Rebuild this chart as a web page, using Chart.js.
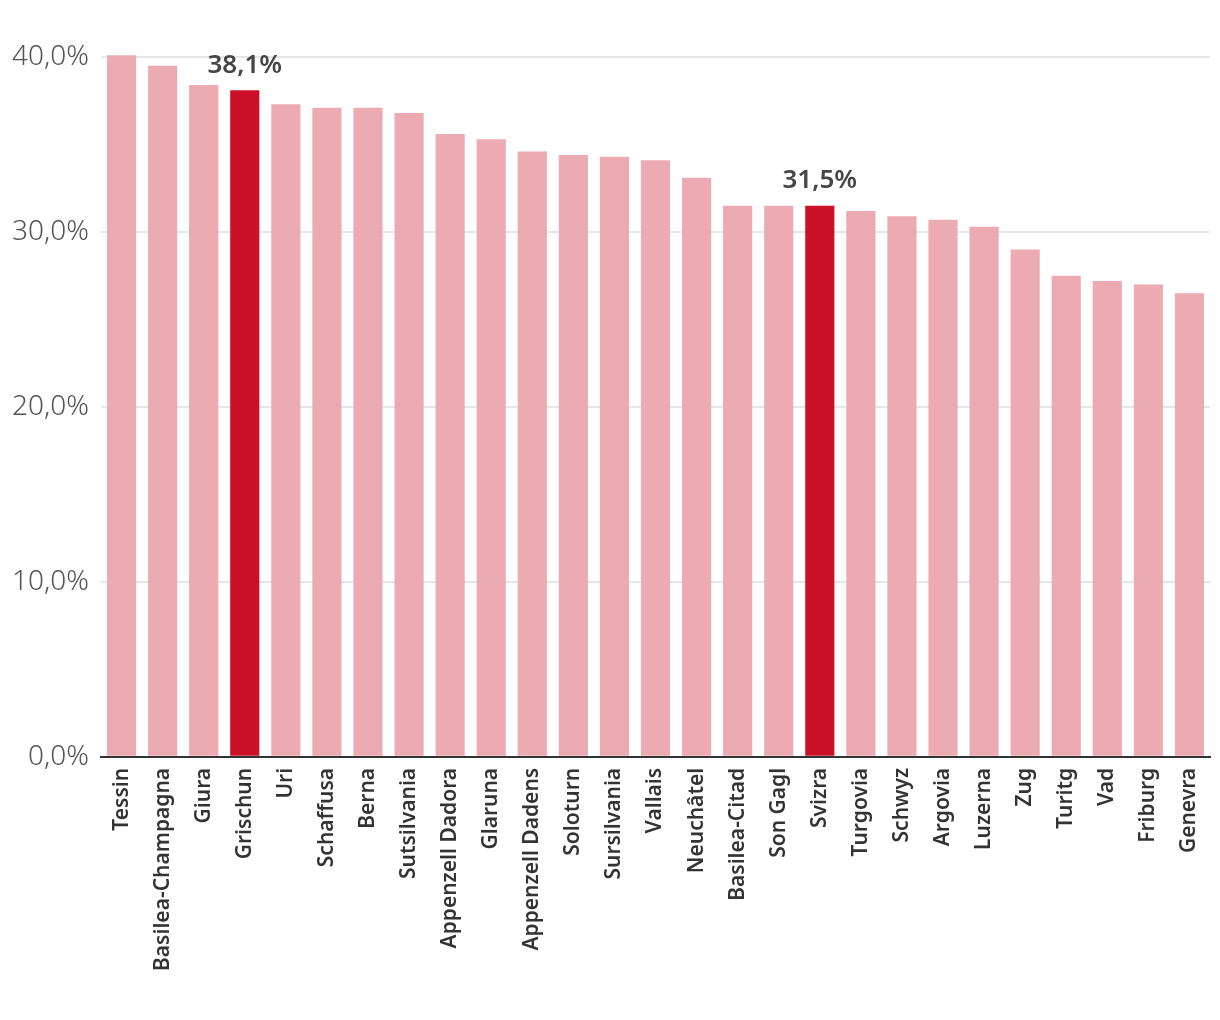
<!DOCTYPE html>
<html>
<head>
<meta charset="utf-8">
<script src="https://cdn.jsdelivr.net/npm/chart.js@4.4.1/dist/chart.umd.min.js"></script>
<style>
    html, body { margin: 0; padding: 0; background: #fff; }
    #wrap { width: 1220px; height: 1020px; }
</style>
</head>
<body>
<div id="wrap"><canvas id="share-chart"></canvas></div>
<script>
// Chantuns, sortads tenor la quota
const cantons = ['Tessin', 'Basilea-Champagna', 'Giura', 'Grischun', 'Uri', 'Schaffusa', 'Berna',
    'Sutsilvania', 'Appenzell Dadora', 'Glaruna', 'Appenzell Dadens', 'Soloturn', 'Sursilvania',
    'Vallais', 'Neuchâtel', 'Basilea-Citad', 'Son Gagl', 'Svizra', 'Turgovia', 'Schwyz', 'Argovia',
    'Luzerna', 'Zug', 'Turitg', 'Vad', 'Friburg', 'Genevra'];
const shares = [40.1, 39.5, 38.4, 38.1, 37.3, 37.1, 37.1, 36.8, 35.6, 35.3, 34.6, 34.4, 34.3,
    34.1, 33.1, 31.5, 31.5, 31.5, 31.2, 30.9, 30.7, 30.3, 29.0, 27.5, 27.2, 27.0, 26.5];
const highlighted = ['Grischun', 'Svizra'];
const yTicks = [0, 10, 20, 30, 40];

const PINK = '#ecaab2';
const RED = '#cb1128';

function fmtPct(v) {
    return v.toFixed(1).replace('.', ',') + '%';
}

// values above the highlighted bars
const valueLabels = {
    id: 'valueLabels',
    afterDatasetsDraw(chart) {
        const ctx = chart.ctx;
        const meta = chart.getDatasetMeta(0);
        ctx.save();
        ctx.font = '600 26px "Noto Sans"';
        ctx.fillStyle = '#464646';
        ctx.textAlign = 'center';
        ctx.textBaseline = 'bottom';
        meta.data.forEach((bar, i) => {
            if (!highlighted.includes(cantons[i])) return;
            ctx.fillText(fmtPct(shares[i]), bar.x, bar.y - 12);
        });
        ctx.restore();
    }
};

const ctx = document.getElementById('share-chart');
new Chart(ctx, {
    type: 'bar',
    data: {
        labels: cantons,
        datasets: [{
            data: shares,
            backgroundColor: cantons.map(c => highlighted.includes(c) ? RED : PINK),
            borderWidth: 0,
            barPercentage: 0.71,
            categoryPercentage: 1,
            clip: false
        }]
    },
    options: {
        responsive: true,
        maintainAspectRatio: false,
        animation: false,
        layout: { padding: { top: 57, right: 10, left: 0, bottom: 46 } },
        plugins: {
            legend: { display: false },
            tooltip: { enabled: false }
        },
        scales: {
            x: {
                grid: { display: false },
                border: { color: '#333', width: 2 },
                ticks: {
                    color: '#333',
                    font: { family: 'Noto Sans', size: 21, weight: '600' },
                    maxRotation: 90,
                    minRotation: 90,
                    autoSkip: false,
                    padding: 3
                }
            },
            y: {
                min: 0,
                max: 40,
                afterBuildTicks(axis) {
                    axis.ticks = yTicks.map(v => ({ value: v }));
                },
                border: { display: false },
                grid: { color: '#e6e6e6', lineWidth: 2, drawTicks: false },
                ticks: {
                    color: '#555',
                    font: { family: 'Noto Sans', size: 28, weight: '300' },
                    padding: 12,
                    callback: v => fmtPct(v)
                }
            }
        }
    },
    plugins: [valueLabels]
});
</script>
</body>
</html>
